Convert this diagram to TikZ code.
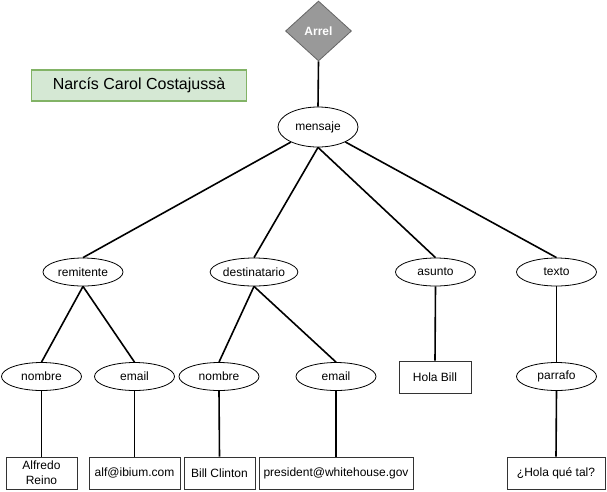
\documentclass[tikz,border=0pt]{standalone}
\usepackage{fontspec}
\setmainfont{Liberation Sans}
\usetikzlibrary{shapes.geometric}
\definecolor{greenfill}{HTML}{D5E8D4}
\definecolor{greenline}{HTML}{82B366}
\definecolor{rootfill}{HTML}{999999}
\definecolor{rootline}{HTML}{666666}
\tikzset{
  attr/.style={ellipse, draw=black, line width=0.8pt, minimum width=80pt, minimum height=28pt, inner sep=0pt, font=\fontsize{12}{14}\selectfont},
  val/.style={rectangle, draw=black!80, line width=0.9pt, minimum height=32pt, inner sep=2pt, align=center, font=\fontsize{12}{14}\selectfont},
  link/.style={line width=1.6pt},
}
\begin{document}
\begin{tikzpicture}[x=1pt,y=-1pt]
\useasboundingbox (0,0) rectangle (607,491);
\node[diamond, fill=rootfill, draw=rootline, line width=0.8pt, minimum width=66pt, minimum height=60pt, inner sep=0pt, text=white, font=\bfseries\fontsize{12}{14}\selectfont] (arrel) at (318.5,31) {Arrel};
\node[rectangle, fill=greenfill, draw=greenline, line width=1.5pt, minimum width=215pt, minimum height=31pt, font=\fontsize{16}{19}\selectfont] (title) at (139,85.5) {Narcís Carol Costajussà};
\node[attr, minimum width=80pt, minimum height=40pt] (mensaje) at (318,127) {mensaje};
\node[attr] (remitente) at (83,272) {remitente};
\node[attr, minimum width=82pt] (destinatario) at (254,272) {destinatario};
\node[attr] (asunto) at (435.5,272) {asunto};
\node[attr] (texto) at (556.5,272) {texto};
\node[attr] (nombre1) at (41.5,376.5) {nombre};
\node[attr] (email1) at (134.5,376.5) {email};
\node[attr] (nombre2) at (219,376.5) {nombre};
\node[attr] (email2) at (336,376.5) {email};
\node[val, minimum width=72pt] (holabill) at (435,377) {Hola Bill};
\node[attr] (parrafo) at (556.5,376.5) {parrafo};
\node[val, minimum width=71pt, inner sep=0pt, font=\fontsize{12}{15}\selectfont] (alfredo) at (41.5,473) {Alfredo\\Reino};
\node[val, minimum width=91pt] (alf) at (134.5,473) {alf@ibium.com};
\node[val, minimum width=71pt] (bill) at (219.5,473) {Bill Clinton};
\node[val, minimum width=154pt] (president) at (336,473) {president@whitehouse.gov};
\node[val, minimum width=98pt] (hola) at (556,473) {¿Hola qué tal?};
\draw[link] (arrel.south) -- (mensaje.north);
\draw[link] (mensaje) -- (remitente.north);
\draw[link] (mensaje.south) -- (destinatario.north);
\draw[link] (mensaje.south) -- (asunto.north);
\draw[link] (mensaje) -- (texto.north);
\draw[link] (remitente.south) -- (nombre1.north);
\draw[link] (remitente.south) -- (email1.north);
\draw[link] (destinatario.south) -- (nombre2.north);
\draw[link] (destinatario.south) -- (email2.north);
\draw[link] (asunto.south) -- (holabill.north);
\draw[link] (texto.south) -- (parrafo.north);
\draw[link] (nombre1.south) -- (alfredo.north);
\draw[link] (email1.south) -- (alf.north);
\draw[link] (nombre2.south) -- (bill.north);
\draw[link] (email2.south) -- (president.north);
\draw[link] (parrafo.south) -- (hola.north);
\end{tikzpicture}
\end{document}
